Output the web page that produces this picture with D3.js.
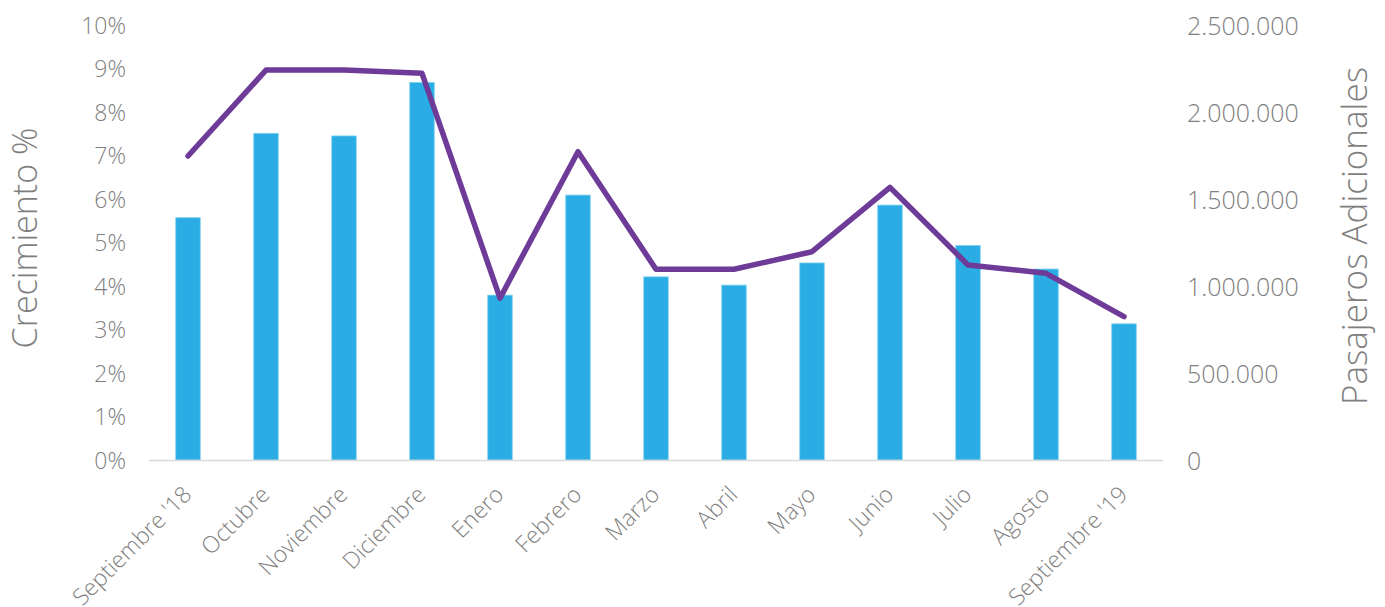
<!DOCTYPE html>
<html><head><meta charset="utf-8">
<script src="https://cdn.jsdelivr.net/npm/d3@7"></script>
<style>
html,body{margin:0;padding:0;background:#fff;}
text{font-family:"Open Sans", Lato, sans-serif;font-weight:300;fill:#7f7f7f;}
</style></head><body>
<svg id="chart" width="1385" height="607"></svg>
<script>
const categories = ["Septiembre '18","Octubre","Noviembre","Diciembre","Enero","Febrero","Marzo","Abril","Mayo","Junio","Julio","Agosto","Septiembre '19"];
const crecimiento = [5.57,7.51,7.45,8.68,3.79,6.09,4.21,4.02,4.53,5.86,4.93,4.39,3.13];
const pasajeros = [1747000,2241000,2241000,2222000,930000,1772000,1096000,1096000,1197000,1567000,1121000,1073000,824000];
const leftTicks = [0,1,2,3,4,5,6,7,8,9,10];
const rightTicks = [0,500000,1000000,1500000,2000000,2500000];

const svg = d3.select("#chart");
const x0 = 149, x1 = 1163, yTop = 25, yBot = 460;
const x = d3.scaleBand().domain(categories).range([x0,x1]).paddingInner(0.686).paddingOuter(0.343);
const yL = d3.scaleLinear().domain([0,10]).range([yBot,yTop]);
const yR = d3.scaleLinear().domain([0,2500000]).range([yBot,yTop]);

// bars
svg.append("g").selectAll("rect").data(crecimiento).join("rect")
  .attr("x",(d,i)=>x(categories[i]))
  .attr("width",x.bandwidth())
  .attr("y",d=>yL(d))
  .attr("height",d=>yBot-yL(d))
  .attr("fill","#29ADE4")
  .attr("stroke","#7fcff0").attr("stroke-width",0.8);

// x axis line
svg.append("line").attr("x1",x0).attr("x2",x1).attr("y1",yBot+0.5).attr("y2",yBot+0.5)
  .attr("stroke","#d9d9d9").attr("stroke-width",1.5);

// line
const line = d3.line().x((d,i)=>x(categories[i])+x.bandwidth()/2).y(d=>yR(d));
svg.append("path").datum(pasajeros).attr("d",line).attr("fill","none")
  .attr("stroke","#6F3B98").attr("stroke-width",5.5).attr("stroke-linejoin","round").attr("stroke-linecap","round");

// left axis
const gL = svg.append("g").attr("transform",`translate(126,0)`)
  .call(d3.axisLeft(yL).tickValues(leftTicks).tickFormat(d=>d+"%").tickSize(0).tickPadding(0));
gL.select(".domain").remove();
gL.selectAll("text").attr("font-size",23).attr("fill","#7f7f7f").style("font-family","'Open Sans'").attr("dy","0.36em");

// right axis
const gR = svg.append("g").attr("transform",`translate(1187,0)`)
  .call(d3.axisRight(yR).tickValues(rightTicks).tickFormat(d=>d3.format(",")(d).replace(/,/g,".")).tickSize(0).tickPadding(0));
gR.select(".domain").remove();
gR.selectAll("text").attr("font-size",25).attr("fill","#7f7f7f").style("font-family","'Open Sans'").attr("dy","0.36em");

// x labels
svg.append("g").selectAll("text").data(categories).join("text")
  .attr("transform",d=>`translate(${x(d)+x.bandwidth()/2+5},${yBot+36}) rotate(-45)`)
  .attr("text-anchor","end").attr("font-size",23).text(d=>d);

// axis titles
svg.append("text").attr("transform",`translate(37,238) rotate(-90)`).attr("text-anchor","middle")
  .attr("font-size",34).text("Crecimiento %");
svg.append("text").attr("transform",`translate(1367,236) rotate(-90)`).attr("text-anchor","middle")
  .attr("font-size",35).text("Pasajeros Adicionales");
</script>
</body></html>
